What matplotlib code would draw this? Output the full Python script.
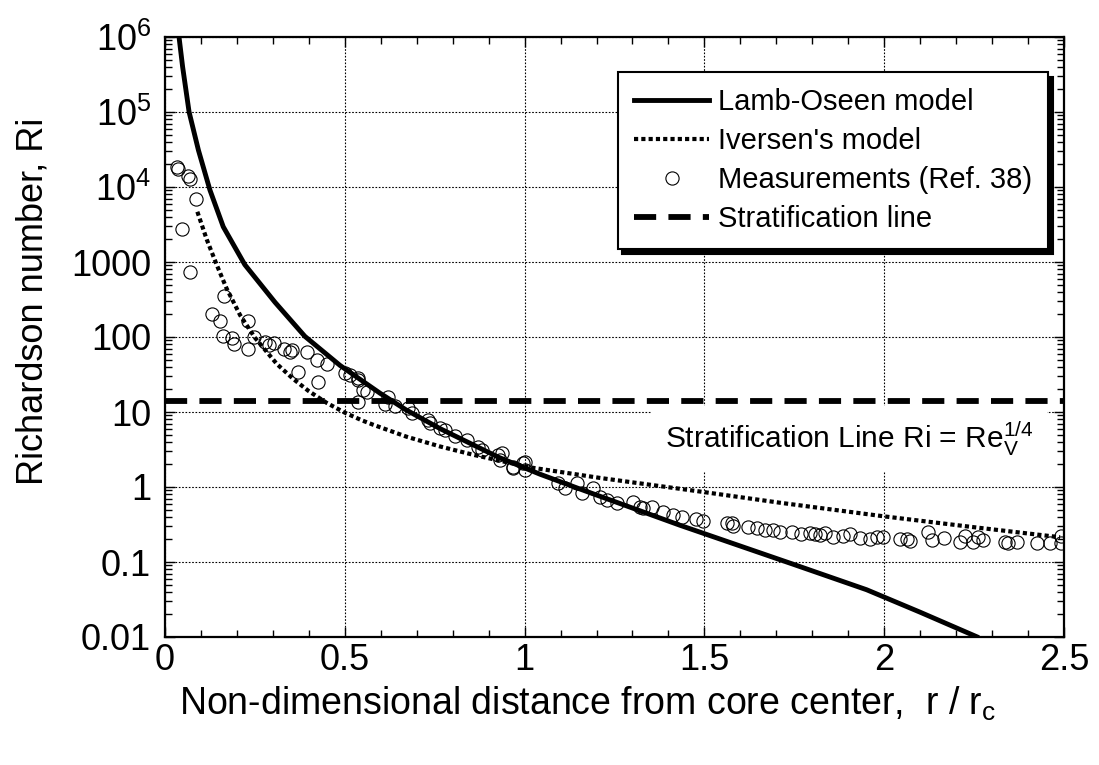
import numpy as np
import matplotlib
matplotlib.use('Agg')
import matplotlib.pyplot as plt
from matplotlib.ticker import FixedLocator, MultipleLocator, LogLocator, NullFormatter

plt.rcParams['font.family'] = ['Liberation Sans', 'DejaVu Sans']
plt.rcParams['mathtext.fontset'] = 'custom'
plt.rcParams['mathtext.rm'] = 'Liberation Sans'
plt.rcParams['mathtext.it'] = 'Liberation Sans'

# Lamb-Oseen model (r/rc, Ri)
lamb_r = [0.039, 0.049, 0.067, 0.093, 0.125, 0.162, 0.222, 0.306, 0.389, 0.487,
          0.598, 0.67, 0.765, 0.927, 1.043, 1.15, 1.432, 1.747, 1.951, 2.1, 2.257]
lamb_ri = [1e6, 4e5, 1e5, 30900, 9100, 2950, 920, 290, 102, 41.7,
           17.8, 10.7, 6.0, 2.5, 1.48, 0.955, 0.309, 0.0933, 0.0427, 0.0214, 0.0101]

# Iversen's model
ivr_r = [0.090, 0.116, 0.144, 0.171, 0.209, 0.25, 0.311, 0.357, 0.399, 0.450,
         0.5, 0.547, 0.579, 0.672, 0.765, 0.857, 0.950, 1.024, 1.21, 1.395,
         1.488, 1.71, 1.998, 2.239, 2.489]
ivr_ri = [4680, 2000, 912, 447, 195, 98, 43.7, 27.5, 19.1, 13.2,
          9.8, 7.76, 6.76, 4.68, 3.47, 2.69, 2.14, 1.80, 1.32, 1.0,
          0.87, 0.617, 0.407, 0.295, 0.214]

# Measurements (Ref. 38)
meas_r = [0.032, 0.035, 0.063, 0.070, 0.085, 0.046, 0.070, 0.165, 0.130, 0.153,
          0.232, 0.162, 0.185, 0.193, 0.248, 0.230, 0.278, 0.289, 0.304, 0.332,
          0.348, 0.352, 0.394, 0.422, 0.450, 0.371, 0.426, 0.500, 0.514, 0.536,
          0.538, 0.536, 0.551, 0.561, 0.621, 0.612, 0.640, 0.677, 0.686, 0.732,
          0.737, 0.765, 0.779, 0.807, 0.839, 0.871, 0.881, 0.927, 0.932, 0.936,
          0.969, 0.969, 0.996, 1.000, 1.001, 1.094, 1.112, 1.145, 1.159, 1.191,
          1.21, 1.228, 1.256, 1.302, 1.321, 1.330, 1.353, 1.386, 1.413, 1.437,
          1.478, 1.497, 1.562, 1.576, 1.580, 1.622, 1.645, 1.668, 1.692, 1.710,
          1.743, 1.770, 1.793, 1.808, 1.822, 1.835, 1.859, 1.886, 1.905, 1.933,
          1.960, 1.979, 1.998, 2.044, 2.063, 2.072, 2.123, 2.132, 2.165, 2.211,
          2.225, 2.248, 2.262, 2.276, 2.336, 2.345, 2.368, 2.424, 2.461, 2.493,
          2.493]
meas_ri = [18300, 17400, 14100, 12600, 7000, 2750, 740, 352, 201, 165,
           163, 104, 98, 80, 99, 69, 86, 78, 84, 69,
           64, 67, 64, 49, 43, 34, 25, 33, 31, 27,
           28, 13.7, 19.6, 18.7, 16, 12.8, 12.0, 11.2, 9.6, 7.8,
           7.1, 6.05, 5.75, 4.8, 4.2, 3.45, 3.1, 2.67, 2.29, 2.81,
           1.87, 1.77, 2.07, 2.17, 1.69, 1.12, 0.96, 1.12, 0.82, 0.96,
           0.74, 0.67, 0.605, 0.64, 0.545, 0.52, 0.545, 0.47, 0.42, 0.40,
           0.38, 0.355, 0.33, 0.334, 0.30, 0.29, 0.28, 0.27, 0.267, 0.253,
           0.253, 0.234, 0.241, 0.234, 0.229, 0.246, 0.218, 0.222, 0.236, 0.207,
           0.20, 0.218, 0.213, 0.20, 0.20, 0.192, 0.253, 0.196, 0.207, 0.187,
           0.222, 0.187, 0.213, 0.196, 0.187, 0.177, 0.187, 0.177, 0.177, 0.222,
           0.177]

strat_ri = 14.0
xtick_vals = [0, 0.5, 1, 1.5, 2, 2.5]
xtick_text = ['0', '0.5', '1', '1.5', '2', '2.5']
ytick_vals = [0.01, 0.1, 1, 10, 100, 1000, 1e4, 1e5, 1e6]
ytick_text = ['0.01', '0.1', '1', '10', '100', '1000',
              r'$\mathregular{10^4}$', r'$\mathregular{10^5}$', r'$\mathregular{10^6}$']

fig = plt.figure(figsize=(10.99, 7.65), dpi=100)
ax = fig.add_axes([165 / 1099, 128 / 765, 899 / 1099, 600 / 765])

ax.plot(lamb_r, lamb_ri, color='black', lw=3.5, solid_joinstyle='round',
        label='Lamb-Oseen model', zorder=4)
ax.plot(ivr_r, ivr_ri, color='black', lw=3.0, linestyle=(0, (1, 0.75)),
        dash_capstyle='butt', label="Iversen's model", zorder=4)
ax.plot(meas_r, meas_ri, linestyle='none', marker='o', ms=9.5, mfc='none',
        mec='black', mew=0.8, label='Measurements (Ref. 38)', zorder=5)
ax.axhline(strat_ri, color='black', lw=4.2, linestyle=(0, (3.8, 2.1)),
           dash_capstyle='butt', label='Stratification line', zorder=3)

ax.set_yscale('log')
ax.set_xlim(0, 2.5)
ax.set_ylim(0.01, 1e6)

ax.set_xticks(xtick_vals)
ax.set_xticklabels(xtick_text)
ax.xaxis.set_minor_locator(MultipleLocator(0.1))
ax.yaxis.set_major_locator(FixedLocator(ytick_vals))
ax.set_yticklabels(ytick_text)
ax.yaxis.set_minor_locator(LogLocator(base=10, subs=np.arange(2, 10), numticks=20))
ax.yaxis.set_minor_formatter(NullFormatter())

ax.tick_params(which='both', direction='in', top=True, right=True, width=1.0)
ax.tick_params(which='major', length=7, labelsize=26)
ax.tick_params(which='minor', length=5)
ax.tick_params(axis='x', which='major', pad=4)
ax.tick_params(axis='y', which='major', pad=10)

ax.grid(True, which='major', color='black', lw=0.8, linestyle=(0, (1.5, 1.5)))
for s in ax.spines.values():
    s.set_linewidth(1.6)

ax.set_xlabel(r'Non-dimensional distance from core center,  r / r$_\mathregular{c}$', fontsize=27)
ax.set_ylabel('Richardson number, Ri', fontsize=26)
ax.xaxis.set_label_coords(0.47, -0.08)
ax.yaxis.set_label_coords(-0.127, 0.56)

ax.text(0.966, 0.33, r'Stratification Line Ri = Re$_\mathregular{V}^\mathregular{1/4}$',
        transform=ax.transAxes, ha='right', va='center', fontsize=21.5, zorder=3.5,
        bbox=dict(facecolor='white', edgecolor='none', pad=10))

leg = ax.legend(loc='upper right', bbox_to_anchor=(0.982, 0.942), fontsize=21,
                frameon=True, fancybox=False, framealpha=1, edgecolor='black',
                handlelength=2.6, handletextpad=0.28, labelspacing=0.38,
                borderpad=0.55, borderaxespad=0,
                shadow={'ox': 3.5, 'oy': -3.5, 'facecolor': 'black',
                        'edgecolor': 'black', 'alpha': 1})
leg.get_frame().set_linewidth(1.5)
leg.set_zorder(10)

fig.savefig('out.png', dpi=100)
